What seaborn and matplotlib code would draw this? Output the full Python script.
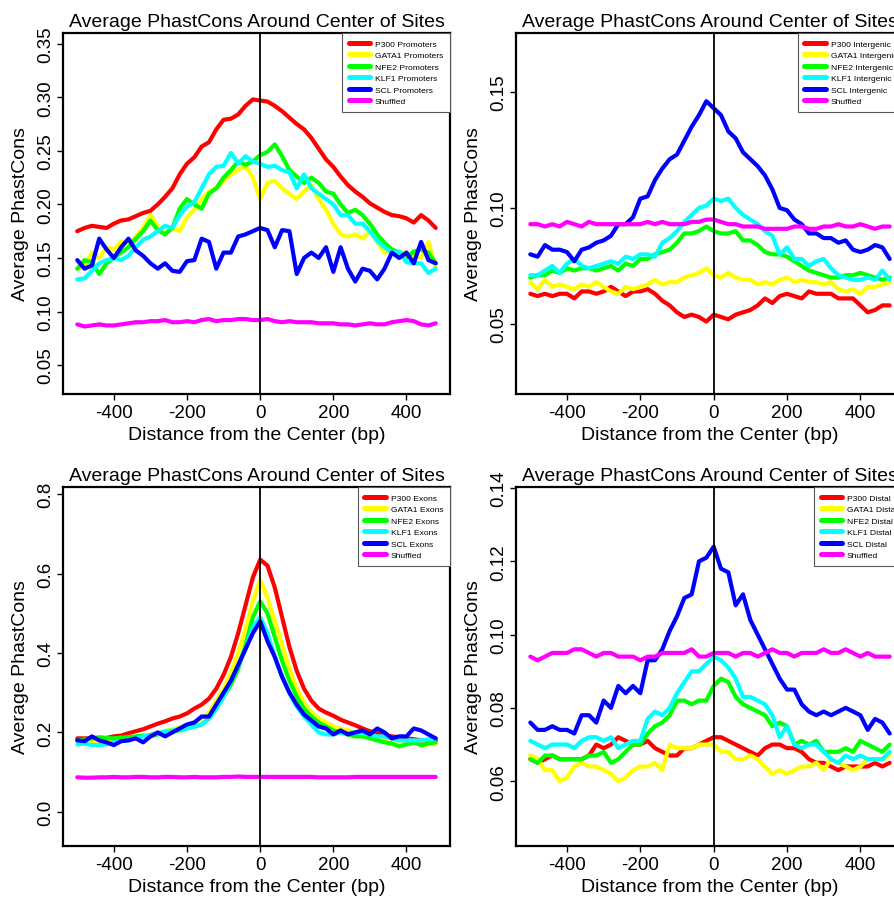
import pandas as pd
import numpy as np
import matplotlib.pyplot as plt
import seaborn as sns
from matplotlib.lines import Line2D
from matplotlib.ticker import FixedLocator, FormatStrFormatter

# distance from site center (bp), one value every 20 bp
pos = list(range(-500, 481, 20))

tfs = ["P300", "GATA1", "NFE2", "KLF1", "SCL"]
colors = ["#FF0000", "#FFFF00", "#00FF00", "#00FFFF", "#0000FF", "#FF00FF"]

# ---- promoters ----
p300_prom = [0.175, 0.178, 0.180, 0.179, 0.178, 0.182, 0.185, 0.186, 0.189, 0.192,
             0.194, 0.200, 0.207, 0.215, 0.228, 0.238, 0.244, 0.254, 0.258, 0.270,
             0.279, 0.280, 0.284, 0.292, 0.298, 0.297, 0.296, 0.292, 0.287, 0.281,
             0.275, 0.270, 0.262, 0.252, 0.242, 0.235, 0.226, 0.218, 0.212, 0.207,
             0.201, 0.197, 0.193, 0.190, 0.189, 0.187, 0.183, 0.190, 0.185, 0.178]
gata1_prom = [0.140, 0.142, 0.155, 0.150, 0.160, 0.158, 0.165, 0.163, 0.170, 0.178,
              0.190, 0.180, 0.172, 0.178, 0.175, 0.188, 0.195, 0.205, 0.212, 0.215,
              0.222, 0.228, 0.232, 0.236, 0.225, 0.205, 0.220, 0.222, 0.215, 0.210,
              0.205, 0.212, 0.218, 0.205, 0.195, 0.182, 0.172, 0.170, 0.172, 0.168,
              0.175, 0.165, 0.155, 0.158, 0.155, 0.155, 0.152, 0.150, 0.165, 0.140]
nfe2_prom = [0.140, 0.148, 0.146, 0.135, 0.145, 0.150, 0.155, 0.160, 0.168, 0.175,
             0.185, 0.176, 0.172, 0.178, 0.196, 0.205, 0.200, 0.196, 0.210, 0.215,
             0.225, 0.232, 0.240, 0.237, 0.240, 0.246, 0.249, 0.256, 0.245, 0.232,
             0.226, 0.220, 0.225, 0.220, 0.212, 0.210, 0.200, 0.192, 0.195, 0.190,
             0.182, 0.172, 0.164, 0.158, 0.155, 0.150, 0.156, 0.158, 0.155, 0.145]
klf1_prom = [0.130, 0.131, 0.138, 0.145, 0.148, 0.150, 0.148, 0.152, 0.160, 0.167,
             0.170, 0.175, 0.180, 0.178, 0.190, 0.198, 0.202, 0.215, 0.228, 0.235,
             0.236, 0.248, 0.238, 0.245, 0.240, 0.238, 0.235, 0.236, 0.232, 0.230,
             0.215, 0.228, 0.215, 0.210, 0.205, 0.200, 0.190, 0.190, 0.182, 0.182,
             0.175, 0.166, 0.160, 0.155, 0.156, 0.146, 0.145, 0.145, 0.136, 0.140]
scl_prom = [0.148, 0.140, 0.143, 0.168, 0.158, 0.150, 0.160, 0.168, 0.157, 0.152,
            0.145, 0.140, 0.145, 0.138, 0.137, 0.147, 0.148, 0.168, 0.165, 0.140,
            0.155, 0.155, 0.170, 0.172, 0.175, 0.178, 0.176, 0.160, 0.176, 0.175,
            0.135, 0.150, 0.155, 0.150, 0.160, 0.137, 0.160, 0.140, 0.128, 0.140,
            0.138, 0.130, 0.140, 0.155, 0.150, 0.155, 0.145, 0.165, 0.148, 0.145]
shuf_prom = [0.088, 0.086, 0.087, 0.088, 0.087, 0.087, 0.088, 0.089, 0.090, 0.090,
             0.091, 0.091, 0.092, 0.090, 0.090, 0.091, 0.090, 0.092, 0.093, 0.091,
             0.092, 0.092, 0.093, 0.093, 0.092, 0.092, 0.093, 0.091, 0.090, 0.091,
             0.090, 0.090, 0.090, 0.089, 0.089, 0.089, 0.088, 0.088, 0.087, 0.088,
             0.089, 0.088, 0.088, 0.090, 0.091, 0.092, 0.091, 0.088, 0.087, 0.089]

# ---- intergenic ----
p300_inter = [0.063, 0.062, 0.063, 0.062, 0.063, 0.063, 0.061, 0.064, 0.064, 0.063,
              0.064, 0.066, 0.064, 0.062, 0.064, 0.064, 0.065, 0.063, 0.060, 0.058,
              0.055, 0.053, 0.054, 0.053, 0.051, 0.054, 0.053, 0.052, 0.054, 0.055,
              0.056, 0.058, 0.061, 0.059, 0.062, 0.063, 0.062, 0.061, 0.064, 0.063,
              0.063, 0.063, 0.061, 0.061, 0.061, 0.058, 0.055, 0.056, 0.058, 0.058]
gata1_inter = [0.068, 0.065, 0.069, 0.066, 0.067, 0.066, 0.065, 0.067, 0.066, 0.068,
               0.066, 0.064, 0.063, 0.066, 0.065, 0.066, 0.067, 0.069, 0.067, 0.068,
               0.068, 0.070, 0.071, 0.072, 0.074, 0.071, 0.070, 0.072, 0.070, 0.069,
               0.069, 0.067, 0.068, 0.067, 0.069, 0.070, 0.068, 0.069, 0.068, 0.068,
               0.067, 0.068, 0.065, 0.064, 0.065, 0.063, 0.066, 0.066, 0.067, 0.068]
nfe2_inter = [0.070, 0.071, 0.071, 0.073, 0.072, 0.074, 0.073, 0.074, 0.074, 0.073,
              0.074, 0.075, 0.073, 0.076, 0.075, 0.078, 0.078, 0.080, 0.081, 0.082,
              0.085, 0.089, 0.089, 0.090, 0.092, 0.090, 0.089, 0.089, 0.090, 0.086,
              0.086, 0.084, 0.081, 0.080, 0.080, 0.079, 0.077, 0.075, 0.073, 0.072,
              0.071, 0.070, 0.070, 0.071, 0.071, 0.072, 0.071, 0.070, 0.069, 0.070]
klf1_inter = [0.071, 0.071, 0.073, 0.075, 0.072, 0.076, 0.078, 0.075, 0.074, 0.075,
              0.076, 0.077, 0.076, 0.079, 0.078, 0.080, 0.080, 0.079, 0.085, 0.087,
              0.090, 0.094, 0.097, 0.100, 0.101, 0.104, 0.103, 0.104, 0.100, 0.097,
              0.095, 0.093, 0.090, 0.088, 0.080, 0.083, 0.078, 0.078, 0.075, 0.077,
              0.078, 0.074, 0.071, 0.070, 0.069, 0.069, 0.070, 0.069, 0.073, 0.069]
scl_inter = [0.080, 0.079, 0.084, 0.082, 0.082, 0.081, 0.077, 0.082, 0.083, 0.085,
             0.086, 0.088, 0.093, 0.093, 0.096, 0.104, 0.105, 0.112, 0.117, 0.121,
             0.123, 0.129, 0.135, 0.140, 0.146, 0.143, 0.140, 0.133, 0.130, 0.124,
             0.121, 0.118, 0.114, 0.108, 0.100, 0.099, 0.095, 0.093, 0.089, 0.089,
             0.087, 0.087, 0.085, 0.086, 0.082, 0.081, 0.082, 0.084, 0.083, 0.078]
shuf_inter = [0.093, 0.093, 0.092, 0.093, 0.092, 0.094, 0.093, 0.092, 0.094, 0.093,
              0.093, 0.093, 0.093, 0.093, 0.093, 0.093, 0.094, 0.093, 0.094, 0.093,
              0.093, 0.093, 0.094, 0.094, 0.095, 0.095, 0.094, 0.093, 0.093, 0.092,
              0.092, 0.092, 0.091, 0.091, 0.091, 0.091, 0.092, 0.092, 0.091, 0.091,
              0.092, 0.092, 0.093, 0.092, 0.092, 0.093, 0.092, 0.091, 0.092, 0.092]

# ---- exons ----
p300_exon = [0.185, 0.185, 0.185, 0.185, 0.186, 0.190, 0.192, 0.198, 0.203, 0.208,
             0.215, 0.222, 0.228, 0.235, 0.240, 0.248, 0.260, 0.270, 0.285, 0.310,
             0.345, 0.390, 0.450, 0.520, 0.590, 0.635, 0.620, 0.565, 0.490, 0.415,
             0.355, 0.310, 0.280, 0.260, 0.250, 0.242, 0.232, 0.225, 0.218, 0.210,
             0.203, 0.198, 0.192, 0.190, 0.188, 0.185, 0.183, 0.180, 0.180, 0.180]
gata1_exon = [0.175, 0.176, 0.175, 0.177, 0.178, 0.180, 0.183, 0.186, 0.188, 0.192,
              0.195, 0.198, 0.203, 0.208, 0.212, 0.218, 0.225, 0.235, 0.250, 0.280,
              0.310, 0.350, 0.400, 0.460, 0.530, 0.585, 0.540, 0.480, 0.420, 0.360,
              0.310, 0.275, 0.250, 0.235, 0.225, 0.215, 0.210, 0.205, 0.200, 0.195,
              0.190, 0.185, 0.183, 0.180, 0.180, 0.178, 0.175, 0.168, 0.170, 0.172]
nfe2_exon = [0.180, 0.182, 0.185, 0.188, 0.186, 0.185, 0.187, 0.188, 0.190, 0.192,
             0.190, 0.195, 0.198, 0.203, 0.205, 0.210, 0.215, 0.220, 0.235, 0.260,
             0.290, 0.320, 0.360, 0.420, 0.490, 0.530, 0.500, 0.440, 0.380, 0.330,
             0.290, 0.260, 0.240, 0.225, 0.215, 0.205, 0.200, 0.195, 0.190, 0.190,
             0.185, 0.180, 0.175, 0.172, 0.165, 0.170, 0.175, 0.168, 0.172, 0.175]
klf1_exon = [0.170, 0.172, 0.168, 0.168, 0.170, 0.175, 0.178, 0.180, 0.185, 0.190,
             0.194, 0.198, 0.202, 0.205, 0.208, 0.210, 0.215, 0.220, 0.235, 0.260,
             0.290, 0.330, 0.370, 0.410, 0.465, 0.490, 0.450, 0.390, 0.340, 0.300,
             0.265, 0.240, 0.220, 0.200, 0.195, 0.195, 0.200, 0.198, 0.200, 0.198,
             0.195, 0.190, 0.190, 0.185, 0.180, 0.180, 0.180, 0.180, 0.182, 0.185]
scl_exon = [0.180, 0.178, 0.190, 0.180, 0.175, 0.168, 0.178, 0.180, 0.185, 0.175,
            0.190, 0.200, 0.190, 0.200, 0.210, 0.220, 0.225, 0.240, 0.240, 0.270,
            0.300, 0.330, 0.370, 0.410, 0.450, 0.480, 0.430, 0.390, 0.340, 0.300,
            0.270, 0.245, 0.230, 0.215, 0.210, 0.195, 0.205, 0.195, 0.200, 0.205,
            0.195, 0.210, 0.200, 0.185, 0.190, 0.190, 0.210, 0.205, 0.195, 0.185]
shuf_exon = [0.087, 0.086, 0.086, 0.087, 0.087, 0.088, 0.087, 0.087, 0.088, 0.088,
             0.087, 0.087, 0.088, 0.088, 0.087, 0.087, 0.088, 0.087, 0.087, 0.087,
             0.088, 0.088, 0.089, 0.088, 0.088, 0.088, 0.088, 0.088, 0.088, 0.088,
             0.088, 0.088, 0.088, 0.087, 0.087, 0.087, 0.087, 0.087, 0.088, 0.088,
             0.088, 0.088, 0.088, 0.088, 0.088, 0.088, 0.088, 0.088, 0.088, 0.088]

# ---- distal ----
p300_dist = [0.066, 0.065, 0.066, 0.067, 0.066, 0.066, 0.066, 0.066, 0.067, 0.070,
             0.069, 0.070, 0.072, 0.071, 0.070, 0.070, 0.071, 0.069, 0.068, 0.067,
             0.067, 0.069, 0.069, 0.070, 0.071, 0.072, 0.072, 0.071, 0.070, 0.069,
             0.068, 0.067, 0.069, 0.070, 0.070, 0.069, 0.069, 0.068, 0.066, 0.065,
             0.065, 0.064, 0.063, 0.064, 0.064, 0.064, 0.064, 0.065, 0.064, 0.065]
gata1_dist = [0.067, 0.066, 0.063, 0.063, 0.060, 0.061, 0.064, 0.065, 0.064, 0.064,
              0.063, 0.062, 0.060, 0.061, 0.063, 0.064, 0.064, 0.065, 0.063, 0.070,
              0.069, 0.069, 0.069, 0.070, 0.070, 0.070, 0.068, 0.068, 0.066, 0.066,
              0.067, 0.066, 0.064, 0.062, 0.063, 0.062, 0.063, 0.064, 0.064, 0.065,
              0.063, 0.066, 0.065, 0.064, 0.063, 0.064, 0.066, 0.066, 0.066, 0.067]
nfe2_dist = [0.066, 0.065, 0.067, 0.067, 0.066, 0.066, 0.066, 0.066, 0.067, 0.067,
             0.068, 0.065, 0.066, 0.068, 0.070, 0.070, 0.073, 0.075, 0.076, 0.078,
             0.082, 0.082, 0.081, 0.082, 0.082, 0.086, 0.088, 0.087, 0.083, 0.081,
             0.080, 0.079, 0.078, 0.075, 0.076, 0.075, 0.070, 0.071, 0.070, 0.071,
             0.068, 0.068, 0.068, 0.069, 0.068, 0.071, 0.070, 0.069, 0.068, 0.070]
klf1_dist = [0.071, 0.070, 0.069, 0.070, 0.070, 0.070, 0.069, 0.071, 0.072, 0.072,
             0.071, 0.072, 0.069, 0.070, 0.071, 0.071, 0.077, 0.079, 0.078, 0.080,
             0.084, 0.087, 0.090, 0.090, 0.092, 0.094, 0.093, 0.091, 0.088, 0.083,
             0.083, 0.082, 0.081, 0.078, 0.072, 0.075, 0.070, 0.069, 0.070, 0.070,
             0.068, 0.066, 0.065, 0.067, 0.066, 0.067, 0.066, 0.066, 0.066, 0.068]
scl_dist = [0.076, 0.074, 0.074, 0.075, 0.074, 0.074, 0.073, 0.078, 0.078, 0.076,
            0.082, 0.080, 0.086, 0.084, 0.086, 0.084, 0.093, 0.093, 0.096, 0.101,
            0.105, 0.110, 0.111, 0.120, 0.121, 0.124, 0.118, 0.117, 0.108, 0.111,
            0.104, 0.100, 0.096, 0.092, 0.088, 0.085, 0.085, 0.081, 0.079, 0.078,
            0.079, 0.078, 0.079, 0.080, 0.079, 0.078, 0.074, 0.077, 0.076, 0.073]
shuf_dist = [0.094, 0.093, 0.094, 0.095, 0.095, 0.095, 0.096, 0.096, 0.095, 0.094,
             0.095, 0.095, 0.094, 0.094, 0.094, 0.093, 0.094, 0.094, 0.095, 0.095,
             0.095, 0.095, 0.096, 0.094, 0.094, 0.095, 0.095, 0.095, 0.094, 0.095,
             0.095, 0.094, 0.095, 0.096, 0.095, 0.095, 0.094, 0.095, 0.095, 0.095,
             0.096, 0.095, 0.095, 0.096, 0.095, 0.094, 0.095, 0.094, 0.094, 0.094]

sns.set_style("ticks")
plt.rcParams["font.family"] = ["Liberation Sans", "DejaVu Sans"]
plt.rcParams["axes.unicode_minus"] = False
for key in ["text.color", "axes.labelcolor", "xtick.color", "ytick.color"]:
    plt.rcParams[key] = "black"

W, H = 894, 903


def box(left, top, w, h):
    return [left / W, 1 - (top + h) / H, w / W, h / H]


panels = [
    (box(63, 34, 387, 361), "Promoters",
     [p300_prom, gata1_prom, nfe2_prom, klf1_prom, scl_prom, shuf_prom],
     (0.023, 0.36), [0.05, 0.10, 0.15, 0.20, 0.25, 0.30, 0.35], "%.2f"),
    (box(516, 34, 388, 361), "Intergenic",
     [p300_inter, gata1_inter, nfe2_inter, klf1_inter, scl_inter, shuf_inter],
     (0.0198, 0.1754), [0.05, 0.10, 0.15], "%.2f"),
    (box(63, 488, 387, 359), "Exons",
     [p300_exon, gata1_exon, nfe2_exon, klf1_exon, scl_exon, shuf_exon],
     (-0.086, 0.818), [0.0, 0.2, 0.4, 0.6, 0.8], "%.1f"),
    (box(516, 488, 388, 359), "Distal",
     [p300_dist, gata1_dist, nfe2_dist, klf1_dist, scl_dist, shuf_dist],
     (0.0423, 0.1403), [0.06, 0.08, 0.10, 0.12, 0.14], "%.2f"),
]

fig = plt.figure(figsize=(W / 100, H / 100), dpi=100)

for rect, suffix, series, ylim, yticks, fmt in panels:
    ax = fig.add_axes(rect)
    names = [t + " " + suffix for t in tfs] + ["Shuffled"]
    df = pd.DataFrame({
        "pos": pos * len(names),
        "val": sum(series, []),
        "set": np.repeat(names, len(pos)),
    })
    sns.lineplot(data=df, x="pos", y="val", hue="set", hue_order=names,
                 palette=colors, linewidth=3, estimator=None, legend=False, ax=ax)
    ax.axvline(0, color="black", lw=1.3, zorder=5)

    ax.set_xlim(-539, 519)
    ax.set_ylim(*ylim)
    ax.xaxis.set_major_locator(FixedLocator([-400, -200, 0, 200, 400]))
    ax.yaxis.set_major_locator(FixedLocator(yticks))
    ax.yaxis.set_major_formatter(FormatStrFormatter(fmt))
    ax.tick_params(axis="both", direction="out", length=4.5, width=1,
                   labelsize=13.5, color="black", labelcolor="black", pad=3)
    ax.tick_params(axis="y", labelrotation=90, pad=2)
    for lab in ax.get_yticklabels():
        lab.set_va("center")
    for sp in ax.spines.values():
        sp.set_visible(True)
        sp.set_linewidth(1.6)
        sp.set_color("black")

    ax.set_title("Average PhastCons Around Center of Sites", fontsize=14, pad=5)
    ax.set_xlabel("Distance from the Center (bp)", fontsize=14, labelpad=3)
    ax.set_ylabel("Average PhastCons", fontsize=14, labelpad=6)

    handles = [Line2D([0], [0], color=c, lw=3.6) for c in colors]
    leg = ax.legend(handles, names, loc="upper right", bbox_to_anchor=(1, 1),
                    borderaxespad=0, fontsize=6.1, fancybox=False, framealpha=1,
                    edgecolor="#555555", handlelength=2.5, handletextpad=0.6,
                    labelspacing=0.42, borderpad=0.8)
    leg.get_frame().set_linewidth(0.8)

fig.savefig("out.png", dpi=100)
